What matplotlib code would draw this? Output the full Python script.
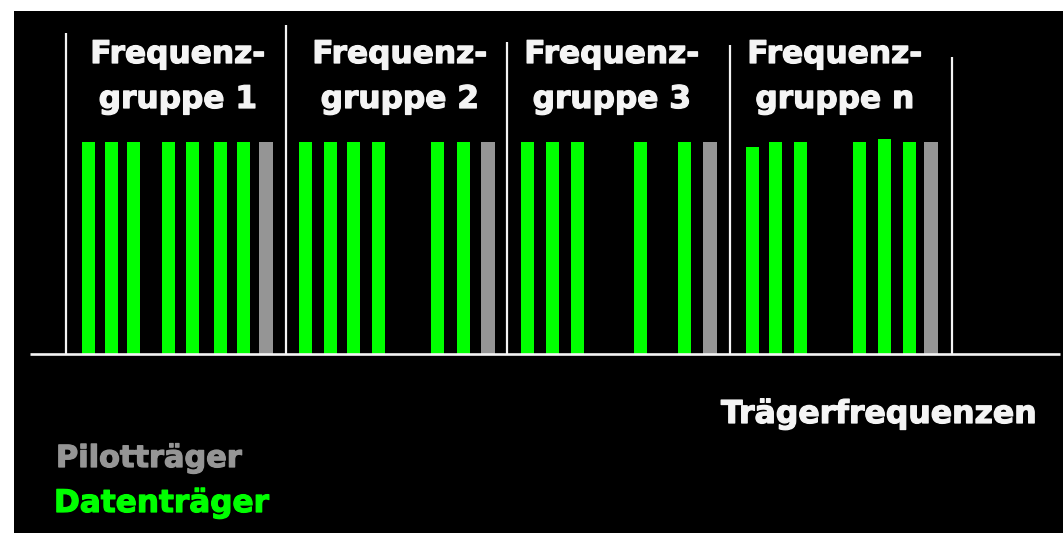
import matplotlib
matplotlib.use("Agg")
import matplotlib.pyplot as plt
import matplotlib.patheffects as pe
from matplotlib.patches import Rectangle

# ---- data (carrier frequency positions, relative amplitudes) ----
group_labels = ["Frequenz-\ngruppe 1", "Frequenz-\ngruppe 2", "Frequenz-\ngruppe 3", "Frequenz-\ngruppe n"]
data_freqs = [
    [88, 111, 133, 168, 192, 220, 243],
    [305, 330, 353, 378, 437, 463],
    [527, 552, 577, 640, 684],
    [752, 775, 800, 859, 884, 909],
]
data_amps = [
    [1.0, 1.0, 1.0, 1.0, 1.0, 1.0, 1.0],
    [1.0, 1.0, 1.0, 1.0, 1.0, 1.0],
    [1.0, 1.0, 1.0, 1.0, 1.0],
    [0.978, 1.0, 1.0, 1.0, 1.013, 1.0],
]
pilot_freqs = [266, 488, 710, 931]
pilot_amps = [1.0, 1.0, 1.0, 1.0]
separator_freqs = [66, 286, 507, 730, 952]
separator_tops = [1.514, 1.552, 1.472, 1.458, 1.401]
label_centers = [178, 400, 612, 835]

axis_label = "Trägerfrequenzen"
pilot_label = "Pilotträger"
data_label = "Datenträger"

GREEN = "#00ff00"
GRAY = "#959595"
WHITE = "#f4f4f4"
FONT = "DejaVu Sans"

W, H = 1063, 533
fig = plt.figure(figsize=(W / 100, H / 100), dpi=100, facecolor="white")
# black panel (white strip at top and left)
fig.patches.append(Rectangle((14 / W, 0), 1 - 14 / W, (H - 11) / H,
                             transform=fig.transFigure, facecolor="black",
                             edgecolor="none", zorder=-5))

ax = fig.add_axes([0, 0, 1, 1])
ax.set_facecolor("none")
PX = 212.0          # pixels per amplitude unit
BASE = 354.0        # baseline pixel row from top
ax.set_xlim(0, W)
ax.set_ylim(-(H - BASE) / PX, BASE / PX)
ax.axis("off")

def py(p):
    return (BASE - p) / PX

for f, a in zip(data_freqs, data_amps):
    ax.bar(f, a, width=13, bottom=0, color=GREEN, zorder=2, linewidth=0)
ax.bar(pilot_freqs, pilot_amps, width=14, bottom=0, color=GRAY, zorder=2, linewidth=0)

ax.vlines(separator_freqs, 0, separator_tops, color=WHITE, lw=1.6, zorder=3)
ax.hlines(0, 30, 1060, color=WHITE, lw=1.9, zorder=4)

renderer = fig.canvas.get_renderer()

def fit(t, target):
    w = t.get_window_extent(renderer).width
    t.set_fontsize(t.get_fontsize() * target / w)

def bold(color):
    return [pe.withStroke(linewidth=0.9, foreground=color)]

# group labels
ref = ax.text(0, 0, "Frequenz-", fontsize=20, fontweight="bold", family=FONT)
fit(ref, 175)
fs = ref.get_fontsize()
ref.remove()
for lab, cx in zip(group_labels, label_centers):
    l1, l2 = lab.split("\n")
    ax.text(cx, py(63), l1, ha="center", va="baseline", fontsize=fs,
            fontweight="bold", family=FONT, color=WHITE, zorder=5,
            path_effects=bold(WHITE))
    ax.text(cx, py(108), l2, ha="center", va="baseline", fontsize=fs,
            fontweight="bold", family=FONT, color=WHITE, zorder=5,
            path_effects=bold(WHITE))

t = ax.text(721, py(423), axis_label, ha="left", va="baseline", fontsize=20,
            fontweight="bold", family=FONT, color=WHITE, path_effects=bold(WHITE))
fit(t, 316)
t = ax.text(56, py(467), pilot_label, ha="left", va="baseline", fontsize=20,
            fontweight="bold", family=FONT, color=GRAY, path_effects=bold(GRAY))
fit(t, 186)
t = ax.text(54, py(512), data_label, ha="left", va="baseline", fontsize=20,
            fontweight="bold", family=FONT, color=GREEN, path_effects=bold(GREEN))
fit(t, 215)

fig.savefig("out.png", dpi=100, facecolor="white")
